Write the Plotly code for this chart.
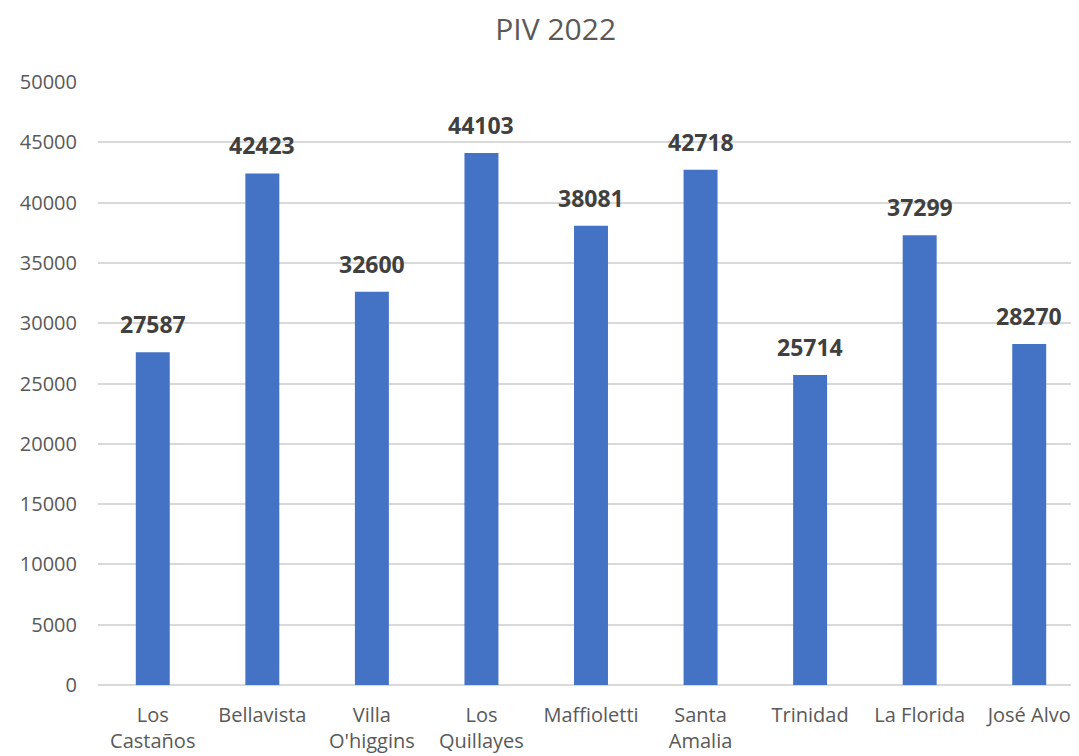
import plotly.graph_objects as go

categories = ["Los<br>Castaños", "Bellavista", "Villa<br>O'higgins", "Los<br>Quillayes",
              "Maffioletti", "Santa<br>Amalia", "Trinidad", "La Florida", "José Alvo"]
values = [27587, 42423, 32600, 44103, 38081, 42718, 25714, 37299, 28270]

font_family = "Open Sans, Noto Sans, sans-serif"

fig = go.Figure(go.Bar(
    x=categories,
    y=values,
    marker=dict(color="#4472C4", line=dict(width=0)),
    cliponaxis=False,
))

for c, v in zip(categories, values):
    fig.add_annotation(x=c, y=v, text=str(v), showarrow=False,
                       xanchor="center", yanchor="bottom", yshift=10,
                       font=dict(family=font_family, size=23, color="#404040", weight="bold"))

fig.update_layout(
    width=1076, height=748,
    paper_bgcolor="white", plot_bgcolor="white",
    margin=dict(l=90, r=0, t=74, b=71, autoexpand=False),
    bargap=0.69,
    showlegend=False,
    title=dict(text="PIV 2022", x=0.509, xanchor="center", y=0.971, yanchor="middle",
               font=dict(family=font_family, size=30, color="#595959")),
    font=dict(family=font_family, size=20, color="#595959"),
)
fig.update_xaxes(showgrid=False, showline=False, ticks="", tickangle=0, automargin=False,
                 ticklabelstandoff=16,
                 tickfont=dict(size=20, color="#595959"))
fig.update_yaxes(range=[0, 50000], dtick=5000, showgrid=True, gridcolor="#D9D9D9",
                 gridwidth=1.5, zeroline=True, zerolinecolor="#D9D9D9", zerolinewidth=1.5,
                 showline=False, ticks="", tickformat="d", ticklabelstandoff=20,
                 automargin=False,
                 tickfont=dict(size=20, color="#595959"))

fig.write_html("out.html")
